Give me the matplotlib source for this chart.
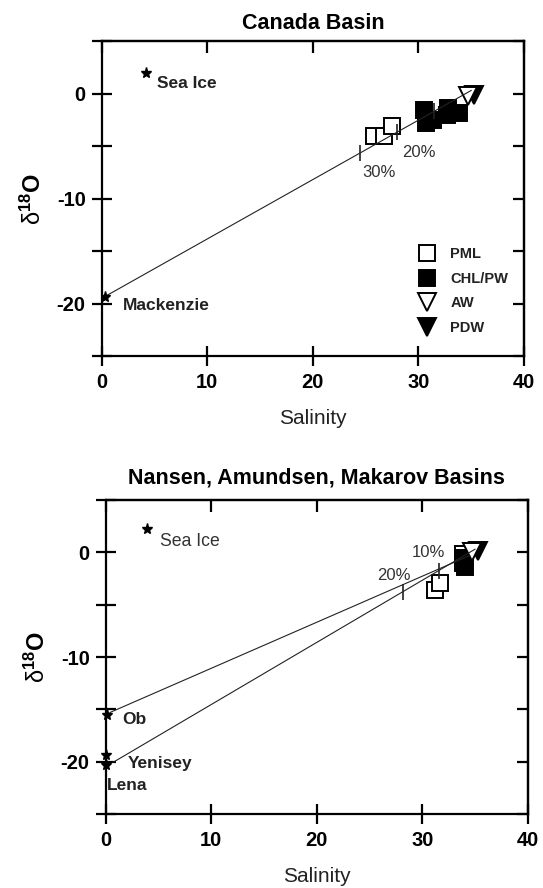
import matplotlib
matplotlib.use('Agg')
import matplotlib.pyplot as plt
from matplotlib.lines import Line2D

plt.rcParams['font.family'] = ['Liberation Sans', 'DejaVu Sans']
plt.rcParams['mathtext.fontset'] = 'custom'
plt.rcParams['mathtext.rm'] = 'Liberation Sans'
plt.rcParams['mathtext.bf'] = 'Liberation Sans:bold'
plt.rcParams['mathtext.it'] = 'Liberation Sans:italic'

# ---------------- data ----------------
xticks = [0, 10, 20, 30, 40]
yticks = [-25, -20, -15, -10, -5, 0, 5]
ytick_labels = ['', '-20', '', '-10', '', '0', '']

# Canada Basin
cb_pml_s = [25.8, 26.7, 27.5]
cb_pml_d = [-4.05, -4.05, -3.1]
cb_chl_s = [30.5, 30.7, 31.4, 32.8, 32.7, 33.8]
cb_chl_d = [-1.6, -2.8, -2.5, -1.4, -2.0, -1.8]
cb_aw_s = [34.7]
cb_aw_d = [-0.2]
cb_pdw_s = [35.3]
cb_pdw_d = [-0.1]
cb_seaice = (4.2, 2.0)
cb_river = (0.3, -19.4)          # Mackenzie
cb_line_s = [0.0, 35.0]
cb_line_d = [-19.5, 0.3]
cb_fracs = [0.1, 0.2, 0.3]
cb_frac_labels = ['20%', '30%']
cb_frac_label_pos = [(28.5, -5.6), (24.7, -7.5)]

# Nansen, Amundsen, Makarov Basins
nb_pml_s = [31.2, 31.66, 33.9]
nb_pml_d = [-3.6, -2.9, -0.2]
nb_chl_s = [33.9, 33.9, 34.1, 34.0]
nb_chl_d = [-0.5, -1.0, -1.4, -0.8]
nb_aw_s = [34.7]
nb_aw_d = [0.0]
nb_pdw_s = [35.3]
nb_pdw_d = [0.1]
nb_seaice = (3.95, 2.2)
nb_rivers_s = [0.1, 0.0, 0.0]
nb_rivers_d = [-15.5, -19.4, -20.3]
nb_river_names = ['Ob', 'Yenisey', 'Lena']
nb_river_label_pos = [(1.6, -16.0), (2.1, -20.2), (0.1, -22.3)]
nb_line1_s = [0.4, 34.5]          # Ob mixing line
nb_line1_d = [-15.3, -0.3]
nb_line2_s = [0.7, 35.0]          # Yenisey/Lena mixing line
nb_line2_d = [-20.06, 0.3]
nb_fracs = [0.1, 0.2]
nb_frac_labels = ['10%', '20%']
nb_frac_label_pos = [(29.0, 0.0), (25.7, -2.2)]

# ---------------- drawing ----------------
fig = plt.figure(figsize=(5.43, 8.88), dpi=100)
ax1 = fig.add_axes([0.1873, 0.599, 0.7777, 0.3547])
ax2 = fig.add_axes([0.1947, 0.0833, 0.7772, 0.3536])

SQ = 11
TR = 12.5
LW = 0.8
TXT = '#333333'


def style_axes(ax, title, tpad):
    ax.set_xlim(0, 40)
    ax.set_ylim(-25, 5)
    for sp in ax.spines.values():
        sp.set_linewidth(1.6)
    ax.set_xticks(xticks)
    ax.set_xticklabels([str(t) for t in xticks])
    ax.set_yticks(yticks)
    ax.set_yticklabels(ytick_labels)
    ax.tick_params(axis='both', direction='inout', length=15, width=1.6,
                   labelsize=14.5, top=False, right=False)
    ax.tick_params(axis='y', pad=4)
    ax.tick_params(axis='x', pad=5)
    for lab in ax.get_xticklabels() + ax.get_yticklabels():
        lab.set_fontweight('bold')
    sx = ax.secondary_xaxis('top')
    sx.set_xticks(xticks)
    sx.tick_params(direction='in', length=8.5, width=1.6, labeltop=False)
    sx.spines['top'].set_linewidth(1.6)
    sy = ax.secondary_yaxis('right')
    sy.set_yticks(yticks)
    sy.tick_params(direction='in', length=8, width=1.6, labelright=False)
    sy.spines['right'].set_linewidth(1.6)
    ax.set_title(title, fontsize=15.5, fontweight='bold', pad=tpad)
    ax.set_xlabel('Salinity', fontsize=15, labelpad=12, color='#222222')
    ax.set_ylabel(r'$\mathrm{\delta}^{\mathbf{18}}\mathbf{O}$', fontsize=17,
                  labelpad=8)


def frac_points(s0, d0, s1, d1, fracs):
    # (s0,d0) river end, (s1,d1) ocean end
    ss = [s1 + f * (s0 - s1) for f in fracs]
    dd = [d1 + f * (d0 - d1) for f in fracs]
    return ss, dd


# ---- top panel ----
ax = ax1
style_axes(ax, 'Canada Basin', 9)
ax.plot(cb_pml_s, cb_pml_d, 's', ms=SQ, mfc='white', mec='black', mew=1.4, zorder=3)
ax.plot(cb_chl_s, cb_chl_d, 's', ms=SQ, mfc='black', mec='black', mew=1.4, zorder=3)
ax.plot(cb_aw_s, cb_aw_d, 'v', ms=TR, mfc='white', mec='black', mew=1.4, zorder=3)
ax.plot(cb_pdw_s, cb_pdw_d, 'v', ms=TR, mfc='black', mec='black', mew=1.4, zorder=2.9)
ax.plot(cb_line_s, cb_line_d, '-', color='#222222', lw=LW, zorder=4)
fs, fd = frac_points(cb_line_s[0], cb_line_d[0], cb_line_s[1], cb_line_d[1], cb_fracs)
ax.plot(fs, fd, '|', ms=11, mew=1.2, color='#222222', zorder=4)
for lab, (xs, ys) in zip(cb_frac_labels, cb_frac_label_pos):
    ax.text(xs, ys, lab, fontsize=12, color=TXT, va='center', ha='left')
ax.plot([cb_seaice[0]], [cb_seaice[1]], '*', ms=8, color='black', zorder=4)
ax.text(cb_seaice[0] + 1.0, cb_seaice[1] - 1.0, 'Sea Ice', fontsize=12.5,
        fontweight='bold', va='center', ha='left', color='#222222')
ax.plot([cb_river[0]], [cb_river[1]], '*', ms=8, color='black', zorder=4)
ax.text(cb_river[0] + 1.7, cb_river[1] - 0.8, 'Mackenzie', fontsize=12.5,
        fontweight='bold', va='center', ha='left', color='#222222')

handles = [
    Line2D([], [], ls='none', marker='s', ms=SQ, mfc='white', mec='black', mew=1.4),
    Line2D([], [], ls='none', marker='s', ms=SQ, mfc='black', mec='black', mew=1.4),
    Line2D([], [], ls='none', marker='v', ms=TR, mfc='white', mec='black', mew=1.4),
    Line2D([], [], ls='none', marker='v', ms=TR, mfc='black', mec='black', mew=1.4),
]
leg = ax.legend(handles, ['PML', 'CHL/PW', 'AW', 'PDW'], loc='upper left',
                bbox_to_anchor=(0.753, 0.345), frameon=False, borderpad=0,
                borderaxespad=0, handlelength=1.0, handletextpad=1.1,
                labelspacing=0.72, prop={'weight': 'bold', 'size': 10.5})
for t in leg.get_texts():
    t.set_color('#222222')

# ---- bottom panel ----
ax = ax2
style_axes(ax, 'Nansen, Amundsen, Makarov Basins', 12)
ax.plot(nb_pml_s, nb_pml_d, 's', ms=SQ, mfc='white', mec='black', mew=1.4, zorder=3)
ax.plot(nb_chl_s, nb_chl_d, 's', ms=SQ, mfc='black', mec='black', mew=1.4, zorder=3)
ax.plot(nb_aw_s, nb_aw_d, 'v', ms=TR, mfc='white', mec='black', mew=1.4, zorder=3)
ax.plot(nb_pdw_s, nb_pdw_d, 'v', ms=TR, mfc='black', mec='black', mew=1.4, zorder=2.9)
ax.plot(nb_line1_s, nb_line1_d, '-', color='#222222', lw=LW, zorder=4)
ax.plot(nb_line2_s, nb_line2_d, '-', color='#222222', lw=LW, zorder=4)
fs, fd = frac_points(nb_line2_s[0], nb_line2_d[0], nb_line2_s[1], nb_line2_d[1], nb_fracs)
ax.plot(fs, fd, '|', ms=11, mew=1.2, color='#222222', zorder=4)
for lab, (xs, ys) in zip(nb_frac_labels, nb_frac_label_pos):
    ax.text(xs, ys, lab, fontsize=12, color=TXT, va='center', ha='left')
ax.plot([nb_seaice[0]], [nb_seaice[1]], '*', ms=8, color='black', zorder=4)
ax.text(nb_seaice[0] + 1.2, nb_seaice[1] - 1.2, 'Sea Ice', fontsize=12.7,
        va='center', ha='left', color=TXT)
ax.plot(nb_rivers_s, nb_rivers_d, '*', ms=8, color='black', zorder=4, clip_on=False)
for name, (xs, ys) in zip(nb_river_names, nb_river_label_pos):
    ax.text(xs, ys, name, fontsize=12.5, fontweight='bold', va='center',
            ha='left', color='#222222')

fig.savefig('out.png', dpi=100)
